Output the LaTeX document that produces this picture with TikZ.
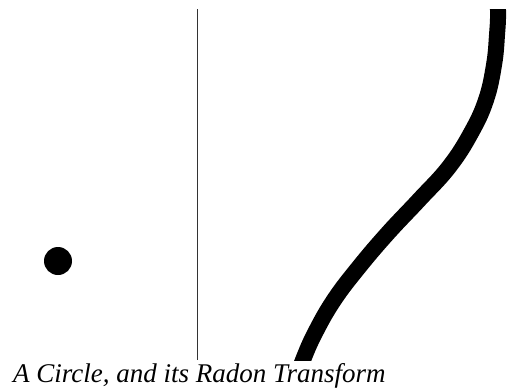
\documentclass[tikz,border=0pt]{standalone}
\usepackage{fontspec}
\setmainfont{Liberation Serif}
\begin{document}
\begin{tikzpicture}[x=1pt,y=-1pt,
  axisline/.style={draw=black!80,line width=1.4pt},
  sinocurve/.style={draw=black,line width=16pt},
  captiontext/.style={font=\fontsize{27}{27}\selectfont\itshape,inner sep=0pt,anchor=base west}]
\useasboundingbox[fill=white] (0,0) rectangle (507,389);
\fill (58,261) circle[radius=14pt];
\coordinate (ltop) at (197.7,9);
\coordinate (lbot) at (197.7,360);
\draw[axisline] (ltop) -- (lbot);
\begin{scope}
\clip (199,9) rectangle (507,360);
\draw[sinocurve] plot[smooth,tension=0.7] coordinates {(496,-20) (498,10) (497,35) (494,65) (486,100) (471,133) (449,167) (419,200) (388,233) (359,267) (334,300) (315,333) (303,360) (296,380)};
\end{scope}
\node[captiontext] (cap) at (13,382) {A Circle, and its Radon Transform};
\end{tikzpicture}
\end{document}
